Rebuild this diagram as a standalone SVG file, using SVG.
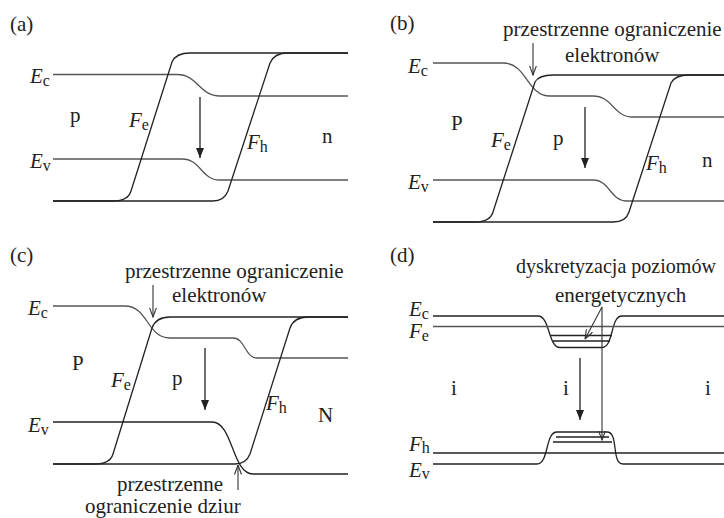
<svg xmlns="http://www.w3.org/2000/svg" width="724" height="518" viewBox="0 0 724 518">
<style>
text{font-family:"Liberation Serif","DejaVu Serif",serif;font-size:21px;fill:#222}
.it{font-style:italic}
.sb{font-size:16px}
.k{fill:none;stroke:#222;stroke-width:1.3}
.g{fill:none;stroke:#555;stroke-width:1.3}
.ar{fill:none;stroke:#222;stroke-width:1.3;marker-end:url(#ah)}
.pt{fill:none;stroke:#333;stroke-width:1.1;marker-end:url(#vh)}
</style>
<defs>
<marker id="ah" markerUnits="userSpaceOnUse" viewBox="0 0 10 8" refX="10" refY="4" markerWidth="10" markerHeight="8" orient="auto"><path d="M0,0 L10,4 L0,8 z" fill="#222"/></marker>
<marker id="vh" markerUnits="userSpaceOnUse" viewBox="0 0 10 8" refX="9.5" refY="4" markerWidth="10" markerHeight="8" orient="auto"><path d="M0,0.5 L9.5,4 L0,7.5" fill="none" stroke="#333" stroke-width="1.1"/></marker>
</defs>

<!-- Panel (a) -->
<g id="panel-a">
  <text x="10" y="31">(a)</text>
  <g id="a-Ec"><path class="g" d="M53,74.5 H177 C198,74.5 199,96 220,96 H348"/><text x="30" y="83"><tspan class="it">E</tspan><tspan class="sb" dy="3">c</tspan></text></g>
  <g id="a-Ev"><path class="g" d="M53,159 H182 C201,159 201,180 220,180 H348"/><text x="30" y="168"><tspan class="it">E</tspan><tspan class="sb" dy="3">v</tspan></text></g>
  <g id="a-Fe"><path class="k" d="M53,201 H113 Q128,201 131,191 L172,62 Q176,53 190,53 H348"/><text x="129" y="127"><tspan class="it">F</tspan><tspan class="sb" dy="3">e</tspan></text></g>
  <g id="a-Fh"><path class="k" d="M53,201 H213 Q224,201 228,191 L270,63 Q274,53 288,53 H348"/><text x="247" y="149"><tspan class="it">F</tspan><tspan class="sb" dy="3">h</tspan></text></g>
  <text x="70" y="122">p</text>
  <text x="322" y="143">n</text>
</g>

<!-- Panel (b) -->
<g id="panel-b">
  <text x="390" y="30">(b)</text>
  <g id="b-Ec"><path class="g" d="M433,63 H503 C527,63 527,96 550,96 H593 C613,96 613,117 633,117 H724"/><text x="408" y="73"><tspan class="it">E</tspan><tspan class="sb" dy="3">c</tspan></text></g>
  <g id="b-Ev"><path class="g" d="M433,180 H593 C610,180 610,201 627,201 H724"/><text x="408" y="189"><tspan class="it">E</tspan><tspan class="sb" dy="3">v</tspan></text></g>
  <g id="b-Fe"><path class="k" d="M433,222 H475 Q490,222 493,212 L535,82 Q539,75 553,75 H724"/><text x="491" y="147"><tspan class="it">F</tspan><tspan class="sb" dy="3">e</tspan></text></g>
  <g id="b-Fh"><path class="k" d="M433,222 H613 Q626,222 629,212 L671,83 Q675,75 689,75 H724"/><text x="646" y="170"><tspan class="it">F</tspan><tspan class="sb" dy="3">h</tspan></text></g>
  <text x="451" y="130">P</text>
  <text x="553" y="145">p</text>
  <text x="702" y="167">n</text>
  <g id="b-note"><text x="503" y="36">przestrzenne ograniczenie</text><text x="565" y="62">elektronów</text></g>
</g>

<!-- Panel (c) -->
<g id="panel-c">
  <text x="10" y="262">(c)</text>
  <g id="c-Ec"><path class="g" d="M53,306 H125 C148,306 147,338 170,338 H233 C245,338 245,358 257,358 H348"/><text x="28" y="315"><tspan class="it">E</tspan><tspan class="sb" dy="3">c</tspan></text></g>
  <g id="c-Ev"><path class="k" d="M53,422 H212 C233,422 232,474 253,474 H348"/><text x="28" y="432"><tspan class="it">E</tspan><tspan class="sb" dy="3">v</tspan></text></g>
  <g id="c-Fe"><path class="k" d="M53,464 H95 Q110,464 113,454 L152,328 Q156,317 170,317 H348"/><text x="111" y="387"><tspan class="it">F</tspan><tspan class="sb" dy="3">e</tspan></text></g>
  <g id="c-Fh"><path class="k" d="M53,464 H235 Q246,464 250,454 L290,328 Q294,317 308,317 H348"/><text x="266" y="410"><tspan class="it">F</tspan><tspan class="sb" dy="3">h</tspan></text></g>
  <text x="72" y="370">P</text>
  <text x="172" y="385">p</text>
  <text x="318" y="422">N</text>
  <g id="c-note1"><text x="125" y="278">przestrzenne ograniczenie</text><text x="172" y="302">elektronów</text></g>
  <g id="c-note2"><text x="117" y="491">przestrzenne</text><text x="85" y="513">ograniczenie dziur</text></g>
</g>

<!-- Panel (d) -->
<g id="panel-d">
  <text x="390" y="262">(d)</text>
  <g id="d-Ec"><path class="k" d="M433,316 H538 C550,316 548,347.5 560,347.5 H602 C614,347.5 610,316 622,316 H724"/><text x="409" y="316"><tspan class="it">E</tspan><tspan class="sb" dy="3">c</tspan></text></g>
  <g id="d-Fe"><path class="g" d="M433,326.5 H724"/><text x="409" y="338"><tspan class="it">F</tspan><tspan class="sb" dy="3">e</tspan></text></g>
  <g id="d-lev-e"><path class="k" d="M551,335.5 H612 M553,341 H610"/></g>
  <g id="d-Ev"><path class="k" d="M433,464 H537 C549,464 545,432 557,432 H607 C619,432 611,464 623,464 H724"/><text x="409" y="477"><tspan class="it">E</tspan><tspan class="sb" dy="2">v</tspan></text></g>
  <g id="d-Fh"><path class="k" d="M433,453 H724"/><text x="409" y="451"><tspan class="it">F</tspan><tspan class="sb" dy="2">h</tspan></text></g>
  <g id="d-lev-h"><path class="k" d="M556,437 H609 M553,442 H612"/></g>
  <text x="451" y="395">i</text>
  <text x="563" y="395">i</text>
  <text x="705" y="395">i</text>
  <g id="d-note"><text x="516" y="273" textLength="200" lengthAdjust="spacingAndGlyphs">dyskretyzacja poziomów</text><text x="555" y="302">energetycznych</text></g>
</g>

<!-- Connectors -->
<g id="connectors">
  <path class="ar" d="M200,97 V158"/>
  <path class="ar" d="M585,107 V168"/>
  <path class="ar" d="M205,348 V410"/>
  <path class="ar" d="M580,358 V420"/>
  <path class="pt" d="M533,43 V75"/>
  <path class="pt" d="M153,285 V317"/>
  <path class="pt" d="M238,490 V465"/>
  <path class="pt" d="M602,307 V440"/>
  <path class="pt" d="M602,307 L585,339"/>
</g>
</svg>
